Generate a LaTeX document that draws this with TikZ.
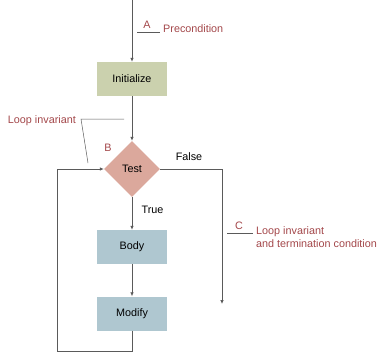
\documentclass[tikz,border=0pt]{standalone}
\usepackage{fontspec}
\setmainfont{Liberation Sans}
\usetikzlibrary{shapes.geometric,arrows.meta}
\definecolor{initcol}{HTML}{CBD1AE}
\definecolor{testcol}{HTML}{DBA89C}
\definecolor{stepcol}{HTML}{AFC7D0}
\definecolor{notecol}{HTML}{A3474A}
\definecolor{linecol}{HTML}{5A5A5A}
\begin{document}
\begin{tikzpicture}[
		x=1pt,y=-1pt,
		every node/.style={font=\fontsize{10.8}{12.5}\selectfont},
		stepbox/.style={rectangle,minimum width=70pt,minimum height=34pt,inner sep=0pt},
		testbox/.style={diamond,fill=testcol,minimum width=56pt,minimum height=56pt,inner sep=0pt},
		flow/.style={draw=linecol,line width=0.7pt,-{Latex[length=4pt,width=3.5pt]}},
		plain/.style={draw=linecol,line width=0.7pt},
		note/.style={text=notecol,inner sep=1pt},
		leader/.style={draw=linecol,line width=0.5pt}
		]
		\useasboundingbox (0,0) rectangle (383,357);
		% boxes
		\node[stepbox,fill=initcol] (init) at (132,79) {Initialize};
		\node[testbox] (test) at (132,169) {Test};
		\node[stepbox,fill=stepcol] (body) at (132,247) {Body};
		\node[stepbox,fill=stepcol] (modify) at (132,313.5) {Modify};
		\coordinate (start) at (132,0);
		\coordinate (falseturn) at (222,169);
		\coordinate (falseend) at (222,304);
		\coordinate (loopbl) at (132,351);
		\coordinate (loopbr) at (57,351);
		\coordinate (looptl) at (57,169);
		% flow
		\draw[flow] (start) -- (init);
		\draw[flow] (init) -- (test);
		\draw[flow] (test) -- node[right,pos=0.4,xshift=6pt] (truelbl) {True} (body);
		\draw[flow] (body) -- (modify);
		\draw[flow] (test.east) -- (falseturn) -- (falseend);
		\draw[flow] (modify) -- (loopbl) -- (loopbr) -- (looptl) -- (test.west);
		\node (falselbl) at (189,157) {False};
		% notes
		\node[note] (notea) at (147,25) {A};
		\coordinate (al) at (137,32);
		\coordinate (ar) at (160,32);
		\draw[leader] (al) -- (ar);
		\node[note,anchor=west] (pre) at (162,29) {Precondition};
		\node[note] (noteb) at (108,148) {B};
		\node[note,anchor=east] (inv) at (77,121) {Loop invariant};
		\coordinate (invr) at (124,119);
		\coordinate (invl) at (81,119);
		\coordinate (invt) at (88,163);
		\draw[leader] (invr) -- (invl) -- (invt);
		\node[note] (notec) at (239,226) {C};
		\coordinate (cl) at (227,233);
		\coordinate (cr) at (253,233);
		\draw[leader] (cl) -- (cr);
		\node[note,anchor=west,align=left] (term) at (255,237) {Loop invariant\\and termination condition};
\end{tikzpicture}
\end{document}
